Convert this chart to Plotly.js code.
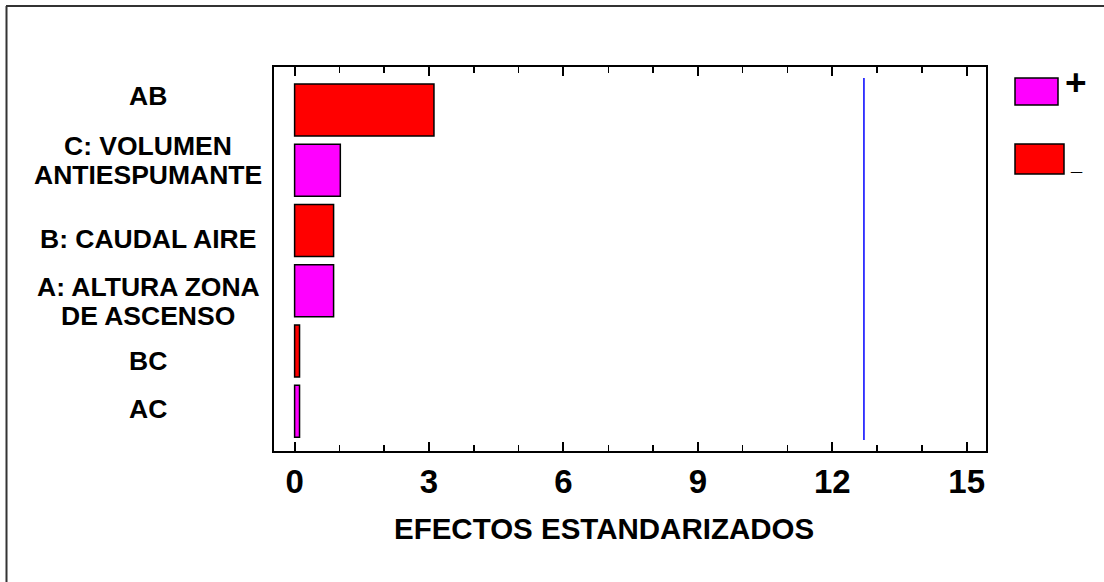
<!DOCTYPE html>
<html>
<head>
<meta charset="utf-8">
<script src="https://cdn.plot.ly/plotly-3.0.1.min.js"></script>
<style>html,body{margin:0;padding:0;background:#fff;}#chart{width:1104px;height:582px;}</style>
</head>
<body>
<div id="chart"></div>
<script>
// ---- data ----
const effectCodes = ['AB', 'C', 'B', 'A', 'BC', 'AC'];
const effectLabels = ['AB', 'C: VOLUMEN<br>ANTIESPUMANTE', 'B: CAUDAL AIRE', 'A: ALTURA ZONA<br>DE ASCENSO', 'BC', 'AC'];
const standardizedEffects = [3.11, 1.02, 0.87, 0.87, 0.11, 0.11];
const effectSigns = ['-', '+', '-', '+', '-', '+'];
const criticalValue = 12.706;
const xTickValues = [0, 3, 6, 9, 12, 15];
const xTickLabels = ['0', '3', '6', '9', '12', '15'];
const xAxisTitle = 'EFECTOS ESTANDARIZADOS';
const legendSymbols = ['+', '_'];

// ---- layout helpers (pixel -> paper) ----
const W = 1104, H = 582;
const L = 274, R = 986, T = 67, B = 451;
const px = x => (x - L) / (R - L);
const py = y => (B - y) / (B - T);
const FONT = 'Liberation Sans, Arial, Helvetica, sans-serif';
const POS_COLOR = '#FF00FF', NEG_COLOR = '#FF0000';
const labelShift = [14, 10, -8, -11, -10, 2];
const LABEL_SIZE = 26.5, LINE_PITCH = 29;

const barColors = effectSigns.map(s => s === '+' ? POS_COLOR : NEG_COLOR);

const trace = {
  type: 'bar',
  orientation: 'h',
  x: standardizedEffects,
  y: effectCodes,
  marker: {color: barColors, line: {color: '#000', width: 1.5}},
  hoverinfo: 'x+y',
  showlegend: false
};

const annotations = [];
effectLabels.forEach((lab, i) => {
  const lines = lab.split('<br>');
  lines.forEach((ln, k) => {
    const off = (k - (lines.length - 1) / 2) * LINE_PITCH;
    annotations.push({
      text: ln, xref: 'paper', yref: 'y', x: px(148), y: i,
      xanchor: 'center', yanchor: 'middle', align: 'center', yshift: labelShift[i] - off,
      showarrow: false, font: {family: FONT, size: LABEL_SIZE, weight: 'bold', color: '#000'}
    });
  });
});
annotations.push({
  text: xAxisTitle, xref: 'paper', yref: 'paper', x: px(604), y: py(528),
  xanchor: 'center', yanchor: 'middle', showarrow: false,
  font: {family: FONT, size: 29.5, weight: 'bold', color: '#000'}
});
annotations.push({
  text: legendSymbols[0], xref: 'paper', yref: 'paper', x: px(1076), y: py(82),
  xanchor: 'center', yanchor: 'middle', showarrow: false,
  font: {family: FONT, size: 37, weight: 'bold', color: '#000'}
});
annotations.push({
  text: legendSymbols[1], xref: 'paper', yref: 'paper', x: px(1076), y: py(163),
  xanchor: 'center', yanchor: 'middle', showarrow: false,
  font: {family: FONT, size: 20, weight: 'bold', color: '#000'}
});

const shapes = [
  // outer frame (left and top)
  {type: 'line', xref: 'paper', yref: 'paper', x0: px(6.5), x1: px(6.5), y0: py(6), y1: py(600), line: {color: '#333', width: 2}},
  {type: 'line', xref: 'paper', yref: 'paper', x0: px(6), x1: px(1120), y0: py(6), y1: py(6), line: {color: '#333', width: 2}},
  // critical value line
  {type: 'line', xref: 'x', yref: 'paper', x0: criticalValue, x1: criticalValue, y0: py(440), y1: py(78), line: {color: '#0000FF', width: 1.5}},
  // legend boxes
  {type: 'rect', xref: 'paper', yref: 'paper', x0: px(1015), x1: px(1058), y0: py(105), y1: py(78), fillcolor: POS_COLOR, line: {color: '#000', width: 1.5}},
  {type: 'rect', xref: 'paper', yref: 'paper', x0: px(1015), x1: px(1064), y0: py(174), y1: py(144), fillcolor: NEG_COLOR, line: {color: '#000', width: 1.5}}
];

const layout = {
  width: W, height: H,
  margin: {l: L, r: W - R, t: T, b: H - B, pad: 0},
  paper_bgcolor: '#fff', plot_bgcolor: '#fff',
  bargap: 0.136,
  showlegend: false,
  xaxis: {
    range: [-0.46, 15.43],
    tickmode: 'array', tickvals: xTickValues, ticktext: xTickLabels,
    ticks: 'inside', ticklen: 9, tickwidth: 2, tickcolor: '#000',
    minor: {ticks: 'inside', ticklen: 6, tickwidth: 1.5, tickcolor: '#000', dtick: 1, tick0: 0, showgrid: false},
    showline: true, linecolor: '#000', linewidth: 2, mirror: 'allticks',
    showgrid: false, zeroline: false,
    tickfont: {family: FONT, size: 33, weight: 'bold', color: '#000'},
    automargin: false
  },
  yaxis: {
    type: 'category', categoryorder: 'array', categoryarray: effectCodes,
    range: [5.66, -0.714],
    showticklabels: false, ticks: '',
    showline: true, linecolor: '#000', linewidth: 2, mirror: true,
    showgrid: false, zeroline: false, automargin: false
  },
  annotations: annotations,
  shapes: shapes
};

Plotly.newPlot('chart', [trace], layout, {staticPlot: true, displayModeBar: false});
</script>
</body>
</html>
